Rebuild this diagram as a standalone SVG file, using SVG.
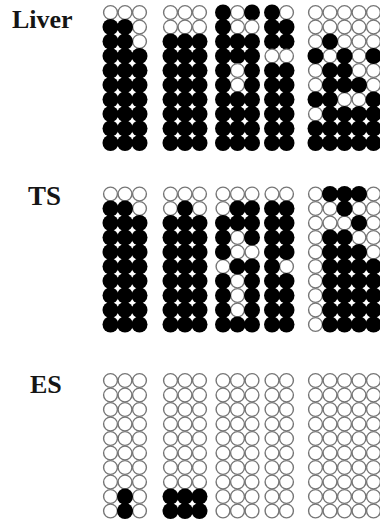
<svg xmlns="http://www.w3.org/2000/svg" xmlns:xlink="http://www.w3.org/1999/xlink" width="380" height="519" viewBox="0 0 380 519">
<style>
.lbl{font-family:"Liberation Serif","Times New Roman",serif;font-weight:bold;fill:#151515;}
</style>
<defs>
<circle id="b" cx="0" cy="0" r="8" fill="#000"/>
<circle id="o" cx="0" cy="0" r="6.9" fill="#fff" stroke="#767676" stroke-width="1.4"/>
</defs>
<rect width="380" height="519" fill="#fff"/>
<g id="labels">
<text class="lbl" x="12" y="28" font-size="26">Liver</text>
<text class="lbl" x="28" y="205" font-size="27">TS</text>
<text class="lbl" x="30" y="393" font-size="26">ES</text>
</g>

<!-- Liver -->
<g id="liver-1" transform="translate(110.5,12.5)">
<use href="#o" x="0" y="0"/><use href="#o" x="14.5" y="0"/><use href="#o" x="29" y="0"/>
<use href="#o" x="29" y="14.5"/><use href="#b" x="0" y="14.5"/><use href="#b" x="14.5" y="14.5"/>
<use href="#o" x="29" y="29"/><use href="#b" x="0" y="29"/><use href="#b" x="14.5" y="29"/>
<use href="#b" x="0" y="43.5"/><use href="#b" x="14.5" y="43.5"/><use href="#b" x="29" y="43.5"/>
<use href="#b" x="0" y="58"/><use href="#b" x="14.5" y="58"/><use href="#b" x="29" y="58"/>
<use href="#b" x="0" y="72.5"/><use href="#b" x="14.5" y="72.5"/><use href="#b" x="29" y="72.5"/>
<use href="#b" x="0" y="87"/><use href="#b" x="14.5" y="87"/><use href="#b" x="29" y="87"/>
<use href="#b" x="0" y="101.5"/><use href="#b" x="14.5" y="101.5"/><use href="#b" x="29" y="101.5"/>
<use href="#b" x="0" y="116"/><use href="#b" x="14.5" y="116"/><use href="#b" x="29" y="116"/>
<use href="#b" x="0" y="130.5"/><use href="#b" x="14.5" y="130.5"/><use href="#b" x="29" y="130.5"/>
</g>
<g id="liver-2" transform="translate(170.5,12.5)">
<use href="#o" x="0" y="0"/><use href="#o" x="14.5" y="0"/><use href="#o" x="29" y="0"/>
<use href="#o" x="0" y="14.5"/><use href="#o" x="14.5" y="14.5"/><use href="#o" x="29" y="14.5"/>
<use href="#b" x="0" y="29"/><use href="#b" x="14.5" y="29"/><use href="#b" x="29" y="29"/>
<use href="#b" x="0" y="43.5"/><use href="#b" x="14.5" y="43.5"/><use href="#b" x="29" y="43.5"/>
<use href="#b" x="0" y="58"/><use href="#b" x="14.5" y="58"/><use href="#b" x="29" y="58"/>
<use href="#b" x="0" y="72.5"/><use href="#b" x="14.5" y="72.5"/><use href="#b" x="29" y="72.5"/>
<use href="#b" x="0" y="87"/><use href="#b" x="14.5" y="87"/><use href="#b" x="29" y="87"/>
<use href="#b" x="0" y="101.5"/><use href="#b" x="14.5" y="101.5"/><use href="#b" x="29" y="101.5"/>
<use href="#b" x="0" y="116"/><use href="#b" x="14.5" y="116"/><use href="#b" x="29" y="116"/>
<use href="#b" x="0" y="130.5"/><use href="#b" x="14.5" y="130.5"/><use href="#b" x="29" y="130.5"/>
</g>
<g id="liver-3" transform="translate(223,12.5)">
<use href="#o" x="14.5" y="0"/><use href="#b" x="0" y="0"/><use href="#b" x="29" y="0"/>
<use href="#o" x="14.5" y="14.5"/><use href="#o" x="29" y="14.5"/><use href="#b" x="0" y="14.5"/>
<use href="#b" x="0" y="29"/><use href="#b" x="14.5" y="29"/><use href="#b" x="29" y="29"/>
<use href="#b" x="0" y="43.5"/><use href="#b" x="14.5" y="43.5"/><use href="#b" x="29" y="43.5"/>
<use href="#o" x="14.5" y="58"/><use href="#b" x="0" y="58"/><use href="#b" x="29" y="58"/>
<use href="#o" x="14.5" y="72.5"/><use href="#b" x="0" y="72.5"/><use href="#b" x="29" y="72.5"/>
<use href="#b" x="0" y="87"/><use href="#b" x="14.5" y="87"/><use href="#b" x="29" y="87"/>
<use href="#b" x="0" y="101.5"/><use href="#b" x="14.5" y="101.5"/><use href="#b" x="29" y="101.5"/>
<use href="#b" x="0" y="116"/><use href="#b" x="14.5" y="116"/><use href="#b" x="29" y="116"/>
<use href="#b" x="0" y="130.5"/><use href="#b" x="14.5" y="130.5"/><use href="#b" x="29" y="130.5"/>
</g>
<g id="liver-4" transform="translate(272,12.5)">
<use href="#o" x="14.5" y="0"/><use href="#b" x="0" y="0"/>
<use href="#b" x="0" y="14.5"/><use href="#b" x="14.5" y="14.5"/>
<use href="#b" x="0" y="29"/><use href="#b" x="14.5" y="29"/>
<use href="#o" x="0" y="43.5"/><use href="#o" x="14.5" y="43.5"/>
<use href="#b" x="0" y="58"/><use href="#b" x="14.5" y="58"/>
<use href="#b" x="0" y="72.5"/><use href="#b" x="14.5" y="72.5"/>
<use href="#b" x="0" y="87"/><use href="#b" x="14.5" y="87"/>
<use href="#b" x="0" y="101.5"/><use href="#b" x="14.5" y="101.5"/>
<use href="#b" x="0" y="116"/><use href="#b" x="14.5" y="116"/>
<use href="#b" x="0" y="130.5"/><use href="#b" x="14.5" y="130.5"/>
</g>
<g id="liver-5" transform="translate(315.5,12.5)">
<use href="#o" x="0" y="0"/><use href="#o" x="14.5" y="0"/><use href="#o" x="29" y="0"/><use href="#o" x="43.5" y="0"/><use href="#o" x="58" y="0"/>
<use href="#o" x="0" y="14.5"/><use href="#o" x="14.5" y="14.5"/><use href="#o" x="29" y="14.5"/><use href="#o" x="43.5" y="14.5"/><use href="#o" x="58" y="14.5"/>
<use href="#o" x="0" y="29"/><use href="#o" x="29" y="29"/><use href="#o" x="43.5" y="29"/><use href="#o" x="58" y="29"/>
<use href="#o" x="14.5" y="43.5"/><use href="#o" x="43.5" y="43.5"/>
<use href="#o" x="0" y="58"/><use href="#o" x="43.5" y="58"/><use href="#o" x="58" y="58"/>
<use href="#o" x="0" y="72.5"/><use href="#o" x="58" y="72.5"/>
<use href="#o" x="29" y="87"/><use href="#o" x="43.5" y="87"/>
<use href="#o" x="0" y="101.5"/>
<use href="#b" x="14.5" y="29"/>
<use href="#b" x="0" y="43.5"/><use href="#b" x="29" y="43.5"/><use href="#b" x="58" y="43.5"/>
<use href="#b" x="14.5" y="58"/><use href="#b" x="29" y="58"/>
<use href="#b" x="14.5" y="72.5"/><use href="#b" x="29" y="72.5"/><use href="#b" x="43.5" y="72.5"/>
<use href="#b" x="0" y="87"/><use href="#b" x="14.5" y="87"/><use href="#b" x="58" y="87"/>
<use href="#b" x="14.5" y="101.5"/><use href="#b" x="29" y="101.5"/><use href="#b" x="43.5" y="101.5"/><use href="#b" x="58" y="101.5"/>
<use href="#b" x="0" y="116"/><use href="#b" x="14.5" y="116"/><use href="#b" x="29" y="116"/><use href="#b" x="43.5" y="116"/><use href="#b" x="58" y="116"/>
<use href="#b" x="0" y="130.5"/><use href="#b" x="14.5" y="130.5"/><use href="#b" x="29" y="130.5"/><use href="#b" x="43.5" y="130.5"/><use href="#b" x="58" y="130.5"/>
</g>

<!-- TS -->
<g id="ts-1" transform="translate(110.5,194)">
<use href="#o" x="0" y="0"/><use href="#o" x="14.5" y="0"/><use href="#o" x="29" y="0"/>
<use href="#o" x="29" y="14.5"/><use href="#b" x="0" y="14.5"/><use href="#b" x="14.5" y="14.5"/>
<use href="#b" x="0" y="29"/><use href="#b" x="14.5" y="29"/><use href="#b" x="29" y="29"/>
<use href="#b" x="0" y="43.5"/><use href="#b" x="14.5" y="43.5"/><use href="#b" x="29" y="43.5"/>
<use href="#b" x="0" y="58"/><use href="#b" x="14.5" y="58"/><use href="#b" x="29" y="58"/>
<use href="#b" x="0" y="72.5"/><use href="#b" x="14.5" y="72.5"/><use href="#b" x="29" y="72.5"/>
<use href="#b" x="0" y="87"/><use href="#b" x="14.5" y="87"/><use href="#b" x="29" y="87"/>
<use href="#b" x="0" y="101.5"/><use href="#b" x="14.5" y="101.5"/><use href="#b" x="29" y="101.5"/>
<use href="#b" x="0" y="116"/><use href="#b" x="14.5" y="116"/><use href="#b" x="29" y="116"/>
<use href="#b" x="0" y="130.5"/><use href="#b" x="14.5" y="130.5"/><use href="#b" x="29" y="130.5"/>
</g>
<g id="ts-2" transform="translate(170.5,194)">
<use href="#o" x="0" y="0"/><use href="#o" x="14.5" y="0"/><use href="#o" x="29" y="0"/>
<use href="#o" x="0" y="14.5"/><use href="#o" x="29" y="14.5"/><use href="#b" x="14.5" y="14.5"/>
<use href="#b" x="0" y="29"/><use href="#b" x="14.5" y="29"/><use href="#b" x="29" y="29"/>
<use href="#b" x="0" y="43.5"/><use href="#b" x="14.5" y="43.5"/><use href="#b" x="29" y="43.5"/>
<use href="#b" x="0" y="58"/><use href="#b" x="14.5" y="58"/><use href="#b" x="29" y="58"/>
<use href="#b" x="0" y="72.5"/><use href="#b" x="14.5" y="72.5"/><use href="#b" x="29" y="72.5"/>
<use href="#b" x="0" y="87"/><use href="#b" x="14.5" y="87"/><use href="#b" x="29" y="87"/>
<use href="#b" x="0" y="101.5"/><use href="#b" x="14.5" y="101.5"/><use href="#b" x="29" y="101.5"/>
<use href="#b" x="0" y="116"/><use href="#b" x="14.5" y="116"/><use href="#b" x="29" y="116"/>
<use href="#b" x="0" y="130.5"/><use href="#b" x="14.5" y="130.5"/><use href="#b" x="29" y="130.5"/>
</g>
<g id="ts-3" transform="translate(223,194)">
<use href="#o" x="0" y="0"/><use href="#o" x="14.5" y="0"/><use href="#o" x="29" y="0"/>
<use href="#o" x="0" y="14.5"/>
<use href="#o" x="14.5" y="43.5"/>
<use href="#o" x="14.5" y="58"/><use href="#o" x="29" y="58"/>
<use href="#o" x="0" y="72.5"/>
<use href="#o" x="14.5" y="87"/>
<use href="#o" x="14.5" y="101.5"/>
<use href="#o" x="14.5" y="116"/>
<use href="#b" x="14.5" y="14.5"/><use href="#b" x="29" y="14.5"/>
<use href="#b" x="0" y="29"/><use href="#b" x="14.5" y="29"/><use href="#b" x="29" y="29"/>
<use href="#b" x="0" y="43.5"/><use href="#b" x="29" y="43.5"/>
<use href="#b" x="0" y="58"/>
<use href="#b" x="14.5" y="72.5"/><use href="#b" x="29" y="72.5"/>
<use href="#b" x="0" y="87"/><use href="#b" x="29" y="87"/>
<use href="#b" x="0" y="101.5"/><use href="#b" x="29" y="101.5"/>
<use href="#b" x="0" y="116"/><use href="#b" x="29" y="116"/>
<use href="#b" x="0" y="130.5"/><use href="#b" x="14.5" y="130.5"/><use href="#b" x="29" y="130.5"/>
</g>
<g id="ts-4" transform="translate(272,194)">
<use href="#o" x="0" y="0"/><use href="#o" x="14.5" y="0"/>
<use href="#o" x="14.5" y="72.5"/>
<use href="#b" x="0" y="14.5"/><use href="#b" x="14.5" y="14.5"/>
<use href="#b" x="0" y="29"/><use href="#b" x="14.5" y="29"/>
<use href="#b" x="0" y="43.5"/><use href="#b" x="14.5" y="43.5"/>
<use href="#b" x="0" y="58"/><use href="#b" x="14.5" y="58"/>
<use href="#b" x="0" y="72.5"/>
<use href="#b" x="0" y="87"/><use href="#b" x="14.5" y="87"/>
<use href="#b" x="0" y="101.5"/><use href="#b" x="14.5" y="101.5"/>
<use href="#b" x="0" y="116"/><use href="#b" x="14.5" y="116"/>
<use href="#b" x="0" y="130.5"/><use href="#b" x="14.5" y="130.5"/>
</g>
<g id="ts-5" transform="translate(315.5,194)">
<use href="#o" x="0" y="0"/><use href="#o" x="58" y="0"/>
<use href="#o" x="0" y="14.5"/><use href="#o" x="14.5" y="14.5"/><use href="#o" x="43.5" y="14.5"/><use href="#o" x="58" y="14.5"/>
<use href="#o" x="0" y="29"/><use href="#o" x="14.5" y="29"/><use href="#o" x="29" y="29"/><use href="#o" x="58" y="29"/>
<use href="#o" x="0" y="43.5"/><use href="#o" x="43.5" y="43.5"/><use href="#o" x="58" y="43.5"/>
<use href="#o" x="0" y="58"/><use href="#o" x="58" y="58"/>
<use href="#o" x="0" y="72.5"/><use href="#o" x="0" y="87"/><use href="#o" x="0" y="101.5"/><use href="#o" x="0" y="116"/><use href="#o" x="0" y="130.5"/>
<use href="#b" x="14.5" y="0"/><use href="#b" x="29" y="0"/><use href="#b" x="43.5" y="0"/>
<use href="#b" x="29" y="14.5"/>
<use href="#b" x="43.5" y="29"/>
<use href="#b" x="14.5" y="43.5"/><use href="#b" x="29" y="43.5"/>
<use href="#b" x="14.5" y="58"/><use href="#b" x="29" y="58"/><use href="#b" x="43.5" y="58"/>
<use href="#b" x="14.5" y="72.5"/><use href="#b" x="29" y="72.5"/><use href="#b" x="43.5" y="72.5"/><use href="#b" x="58" y="72.5"/>
<use href="#b" x="14.5" y="87"/><use href="#b" x="29" y="87"/><use href="#b" x="43.5" y="87"/><use href="#b" x="58" y="87"/>
<use href="#b" x="14.5" y="101.5"/><use href="#b" x="29" y="101.5"/><use href="#b" x="43.5" y="101.5"/><use href="#b" x="58" y="101.5"/>
<use href="#b" x="14.5" y="116"/><use href="#b" x="29" y="116"/><use href="#b" x="43.5" y="116"/><use href="#b" x="58" y="116"/>
<use href="#b" x="14.5" y="130.5"/><use href="#b" x="29" y="130.5"/><use href="#b" x="43.5" y="130.5"/><use href="#b" x="58" y="130.5"/>
</g>

<!-- ES -->
<g id="es-1" transform="translate(110.5,380.5)">
<use href="#o" x="0" y="0"/><use href="#o" x="14.5" y="0"/><use href="#o" x="29" y="0"/>
<use href="#o" x="0" y="14.5"/><use href="#o" x="14.5" y="14.5"/><use href="#o" x="29" y="14.5"/>
<use href="#o" x="0" y="29"/><use href="#o" x="14.5" y="29"/><use href="#o" x="29" y="29"/>
<use href="#o" x="0" y="43.5"/><use href="#o" x="14.5" y="43.5"/><use href="#o" x="29" y="43.5"/>
<use href="#o" x="0" y="58"/><use href="#o" x="14.5" y="58"/><use href="#o" x="29" y="58"/>
<use href="#o" x="0" y="72.5"/><use href="#o" x="14.5" y="72.5"/><use href="#o" x="29" y="72.5"/>
<use href="#o" x="0" y="87"/><use href="#o" x="14.5" y="87"/><use href="#o" x="29" y="87"/>
<use href="#o" x="0" y="101.5"/><use href="#o" x="14.5" y="101.5"/><use href="#o" x="29" y="101.5"/>
<use href="#o" x="0" y="116"/><use href="#o" x="29" y="116"/>
<use href="#o" x="0" y="130.5"/><use href="#o" x="29" y="130.5"/>
<use href="#b" x="14.5" y="116"/><use href="#b" x="14.5" y="130.5"/>
</g>
<g id="es-2" transform="translate(170.5,380.5)">
<use href="#o" x="0" y="0"/><use href="#o" x="14.5" y="0"/><use href="#o" x="29" y="0"/>
<use href="#o" x="0" y="14.5"/><use href="#o" x="14.5" y="14.5"/><use href="#o" x="29" y="14.5"/>
<use href="#o" x="0" y="29"/><use href="#o" x="14.5" y="29"/><use href="#o" x="29" y="29"/>
<use href="#o" x="0" y="43.5"/><use href="#o" x="14.5" y="43.5"/><use href="#o" x="29" y="43.5"/>
<use href="#o" x="0" y="58"/><use href="#o" x="14.5" y="58"/><use href="#o" x="29" y="58"/>
<use href="#o" x="0" y="72.5"/><use href="#o" x="14.5" y="72.5"/><use href="#o" x="29" y="72.5"/>
<use href="#o" x="0" y="87"/><use href="#o" x="14.5" y="87"/><use href="#o" x="29" y="87"/>
<use href="#o" x="0" y="101.5"/><use href="#o" x="14.5" y="101.5"/><use href="#o" x="29" y="101.5"/>
<use href="#b" x="0" y="116"/><use href="#b" x="14.5" y="116"/><use href="#b" x="29" y="116"/>
<use href="#b" x="0" y="130.5"/><use href="#b" x="14.5" y="130.5"/><use href="#b" x="29" y="130.5"/>
</g>
<g id="es-3" transform="translate(223,380.5)">
<use href="#o" x="0" y="0"/><use href="#o" x="14.5" y="0"/><use href="#o" x="29" y="0"/>
<use href="#o" x="0" y="14.5"/><use href="#o" x="14.5" y="14.5"/><use href="#o" x="29" y="14.5"/>
<use href="#o" x="0" y="29"/><use href="#o" x="14.5" y="29"/><use href="#o" x="29" y="29"/>
<use href="#o" x="0" y="43.5"/><use href="#o" x="14.5" y="43.5"/><use href="#o" x="29" y="43.5"/>
<use href="#o" x="0" y="58"/><use href="#o" x="14.5" y="58"/><use href="#o" x="29" y="58"/>
<use href="#o" x="0" y="72.5"/><use href="#o" x="14.5" y="72.5"/><use href="#o" x="29" y="72.5"/>
<use href="#o" x="0" y="87"/><use href="#o" x="14.5" y="87"/><use href="#o" x="29" y="87"/>
<use href="#o" x="0" y="101.5"/><use href="#o" x="14.5" y="101.5"/><use href="#o" x="29" y="101.5"/>
<use href="#o" x="0" y="116"/><use href="#o" x="14.5" y="116"/><use href="#o" x="29" y="116"/>
<use href="#o" x="0" y="130.5"/><use href="#o" x="14.5" y="130.5"/><use href="#o" x="29" y="130.5"/>
</g>
<g id="es-4" transform="translate(272,380.5)">
<use href="#o" x="0" y="0"/><use href="#o" x="14.5" y="0"/>
<use href="#o" x="0" y="14.5"/><use href="#o" x="14.5" y="14.5"/>
<use href="#o" x="0" y="29"/><use href="#o" x="14.5" y="29"/>
<use href="#o" x="0" y="43.5"/><use href="#o" x="14.5" y="43.5"/>
<use href="#o" x="0" y="58"/><use href="#o" x="14.5" y="58"/>
<use href="#o" x="0" y="72.5"/><use href="#o" x="14.5" y="72.5"/>
<use href="#o" x="0" y="87"/><use href="#o" x="14.5" y="87"/>
<use href="#o" x="0" y="101.5"/><use href="#o" x="14.5" y="101.5"/>
<use href="#o" x="0" y="116"/><use href="#o" x="14.5" y="116"/>
<use href="#o" x="0" y="130.5"/><use href="#o" x="14.5" y="130.5"/>
</g>
<g id="es-5" transform="translate(315.5,380.5)">
<use href="#o" x="0" y="0"/><use href="#o" x="14.5" y="0"/><use href="#o" x="29" y="0"/><use href="#o" x="43.5" y="0"/><use href="#o" x="58" y="0"/>
<use href="#o" x="0" y="14.5"/><use href="#o" x="14.5" y="14.5"/><use href="#o" x="29" y="14.5"/><use href="#o" x="43.5" y="14.5"/><use href="#o" x="58" y="14.5"/>
<use href="#o" x="0" y="29"/><use href="#o" x="14.5" y="29"/><use href="#o" x="29" y="29"/><use href="#o" x="43.5" y="29"/><use href="#o" x="58" y="29"/>
<use href="#o" x="0" y="43.5"/><use href="#o" x="14.5" y="43.5"/><use href="#o" x="29" y="43.5"/><use href="#o" x="43.5" y="43.5"/><use href="#o" x="58" y="43.5"/>
<use href="#o" x="0" y="58"/><use href="#o" x="14.5" y="58"/><use href="#o" x="29" y="58"/><use href="#o" x="43.5" y="58"/><use href="#o" x="58" y="58"/>
<use href="#o" x="0" y="72.5"/><use href="#o" x="14.5" y="72.5"/><use href="#o" x="29" y="72.5"/><use href="#o" x="43.5" y="72.5"/><use href="#o" x="58" y="72.5"/>
<use href="#o" x="0" y="87"/><use href="#o" x="14.5" y="87"/><use href="#o" x="29" y="87"/><use href="#o" x="43.5" y="87"/><use href="#o" x="58" y="87"/>
<use href="#o" x="0" y="101.5"/><use href="#o" x="14.5" y="101.5"/><use href="#o" x="29" y="101.5"/><use href="#o" x="43.5" y="101.5"/><use href="#o" x="58" y="101.5"/>
<use href="#o" x="0" y="116"/><use href="#o" x="14.5" y="116"/><use href="#o" x="29" y="116"/><use href="#o" x="43.5" y="116"/><use href="#o" x="58" y="116"/>
<use href="#o" x="0" y="130.5"/><use href="#o" x="14.5" y="130.5"/><use href="#o" x="29" y="130.5"/><use href="#o" x="43.5" y="130.5"/><use href="#o" x="58" y="130.5"/>
</g>
<g id="connectors"></g>
</svg>
